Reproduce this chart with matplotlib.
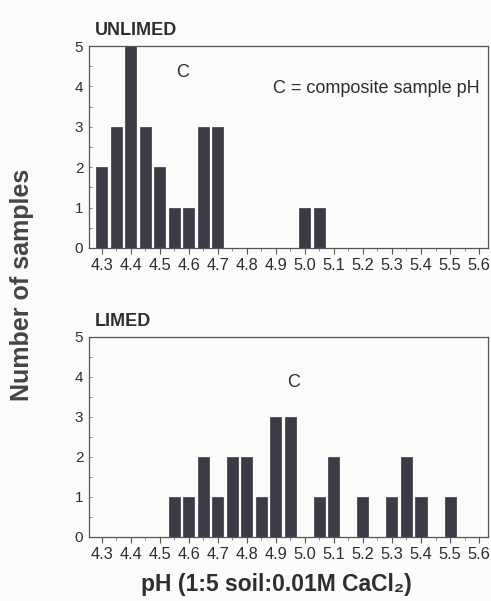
import numpy as np
import matplotlib
matplotlib.use("Agg")
import matplotlib.pyplot as plt
from matplotlib.ticker import MultipleLocator

plt.rcParams['font.family'] = ['Liberation Sans', 'DejaVu Sans']

# histogram of sample pH, bins 0.05 wide
unlimed_ph = [4.30, 4.35, 4.40, 4.45, 4.50, 4.55, 4.60, 4.65, 4.70, 5.00, 5.05]
unlimed_n = [2, 3, 5, 3, 2, 1, 1, 3, 3, 1, 1]
limed_ph = [4.55, 4.60, 4.65, 4.70, 4.75, 4.80, 4.85, 4.90, 4.95,
            5.05, 5.10, 5.20, 5.30, 5.35, 5.40, 5.50]
limed_n = [1, 1, 2, 1, 2, 2, 1, 3, 3, 1, 2, 1, 1, 2, 1, 1]
# composite sample pH marker (x, y)
unlimed_c = (4.58, 4.35)
limed_c = (4.96, 3.85)
tick_labels = ['4.3', '4.4', '4.5', '4.6', '4.7', '4.8', '4.9',
               '5.0', '5.1', '5.2', '5.3', '5.4', '5.5', '5.6']

bar_col = '#3b3b45'
txt_col = '#2e2e2e'
bg = '#fbfbf9'

fig = plt.figure(figsize=(4.91, 6.01), dpi=100, facecolor=bg)
ax1 = fig.add_axes([0.181, 0.5874, 0.813, 0.336])
ax2 = fig.add_axes([0.181, 0.1065, 0.813, 0.333])

panels = [(ax1, unlimed_ph, unlimed_n, unlimed_c, 'UNLIMED'),
          (ax2, limed_ph, limed_n, limed_c, 'LIMED')]

ticks = [float(t) for t in tick_labels]
for ax, ph, n, c, title in panels:
    ax.set_facecolor(bg)
    ax.bar(ph, n, width=0.038, color=bar_col, edgecolor=bar_col, linewidth=0.5, zorder=2)
    ax.set_xlim(4.256, 5.631)
    ax.set_ylim(0, 5)
    ax.set_xticks(ticks)
    ax.set_xticklabels(tick_labels, fontsize=11.8, color=txt_col)
    ax.xaxis.set_minor_locator(MultipleLocator(0.05))
    ax.set_yticks(range(6))
    ax.set_yticklabels([str(i) for i in range(6)], fontsize=11, color=txt_col)
    ax.yaxis.set_minor_locator(MultipleLocator(0.5))
    ax.tick_params(axis='x', which='major', direction='out', length=4, width=0.8, pad=3, colors='#555555', labelcolor=txt_col)
    ax.tick_params(axis='x', which='minor', direction='out', length=2, width=0.6, colors='#777777')
    ax.tick_params(axis='y', which='both', direction='in', length=2, width=0.6, pad=4, colors='#777777', labelcolor=txt_col)
    for s in ax.spines.values():
        s.set_color('#555555')
        s.set_linewidth(0.9)
    ax.text(c[0], c[1], 'C', ha='center', va='center', fontsize=13, color=txt_col)
    ax.text(0.015, 1.035, title, transform=ax.transAxes, ha='left', va='bottom',
            fontsize=13, fontweight='bold', color=txt_col)

ax1.text(0.98, 0.79, 'C = composite sample pH', transform=ax1.transAxes,
         ha='right', va='center', fontsize=13, color=txt_col)

fig.text(0.045, 0.526, 'Number of samples', rotation=90, ha='center', va='center',
         fontsize=18, fontweight='bold', color='#444444')
fig.text(0.562, 0.027, 'pH (1:5 soil:0.01M CaCl₂)', ha='center', va='center',
         fontsize=16.5, fontweight='bold', color=txt_col)

fig.savefig('out.png', dpi=100, facecolor=bg)
